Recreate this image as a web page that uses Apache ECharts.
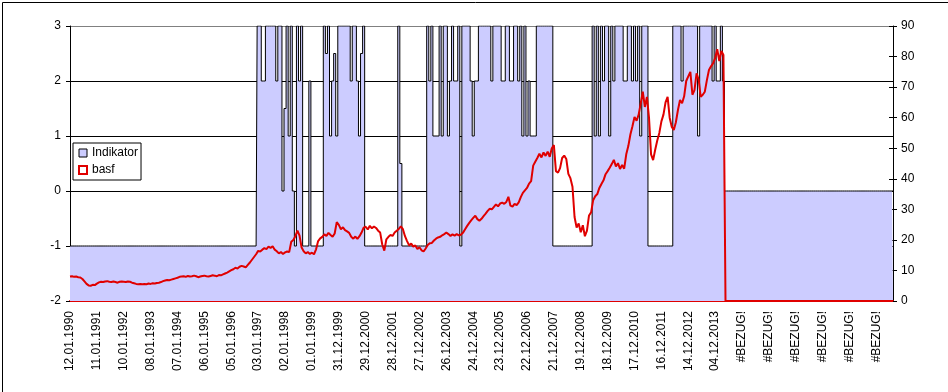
<!DOCTYPE html>
<html><head><meta charset="utf-8">
<script src="https://cdn.jsdelivr.net/npm/echarts@6/dist/echarts.min.js"></script>
<style>html,body{margin:0;padding:0;background:#fff}#c{width:948px;height:392px}</style>
</head><body><div id="c"></div>
<script>
// Tick labels (one every 13 samples; samples are 4-weekly)
const tickLabels = ['12.01.1990','11.01.1991','10.01.1992','08.01.1993','07.01.1994','06.01.1995','05.01.1996','03.01.1997','02.01.1998','01.01.1999','31.12.1999','29.12.2000','28.12.2001','27.12.2002','26.12.2003','24.12.2004','23.12.2005','22.12.2006','21.12.2007','19.12.2008','18.12.2009','17.12.2010','16.12.2011','14.12.2012','04.12.2013','#BEZUG!','#BEZUG!','#BEZUG!','#BEZUG!','#BEZUG!','#BEZUG!'];

// Indikator (left axis)
const indikator = [
-1,-1,-1,-1,-1,-1,-1,-1,-1,-1,
-1,-1,-1,-1,-1,-1,-1,-1,-1,-1,
-1,-1,-1,-1,-1,-1,-1,-1,-1,-1,
-1,-1,-1,-1,-1,-1,-1,-1,-1,-1,
-1,-1,-1,-1,-1,-1,-1,-1,-1,-1,
-1,-1,-1,-1,-1,-1,-1,-1,-1,-1,
-1,-1,-1,-1,-1,-1,-1,-1,-1,-1,
-1,-1,-1,-1,-1,-1,-1,-1,-1,-1,
-1,-1,-1,-1,-1,-1,-1,-1,-1,-1,
-1,3,3,2,2,3,3,3,3,3,
2,3,3,0,1.5,3,1,3,0,-1,
3,2,3,-1,-1,-1,2,-1,-1,-1,
-1,-1,-1,3,2.5,3,1,2,2.5,1,
3,3,3,3,3,3,2,3,3,2,
1,2.5,3,-1,-1,-1,-1,-1,-1,-1,
-1,-1,-1,-1,-1,-1,-1,-1,-1,3,
0.5,-1,-1,-1,-1,-1,-1,-1,-1,-1,
-1,-1,-1,3,2,3,1,1,1,3,
1,3,3,1,2,3,2,2,3,-1,
3,3,3,3,2,1,2,2,3,3,
3,3,3,3,2,3,3,3,3,2,
2,3,3,2,2,3,3,2,3,1,
3,1,2,1,1,1,3,3,3,3,
3,3,3,3,-1,-1,-1,-1,-1,-1,
-1,-1,-1,-1,-1,-1,-1,-1,-1,-1,
-1,-1,-1,3,1,3,1,3,2,3,
3,1,3,2,3,3,3,3,2,2,
3,3,2,3,2,3,1,3,3,3,
-1,-1,-1,-1,-1,-1,-1,-1,-1,-1,
-1,-1,3,3,3,3,2,3,3,3,
3,3,3,3,1,3,3,3,3,3,
3,2,3,2,2,3,2,0,0,0,
0,0,0,0,0,0,0,0,0,0,
0,0,0,0,0,0,0,0,0,0,
0,0,0,0,0,0,0,0,0,0,
0,0,0,0,0,0,0,0,0,0,
0,0,0,0,0,0,0,0,0,0,
0,0,0,0,0,0,0,0,0,0,
0,0,0,0,0,0,0,0,0,0,
0,0,0,0,0,0,0,0,0
];

// basf (right axis)
const basf = [
8.0,8.1,7.9,8.0,7.8,7.7,7.2,6.4,5.6,5.1,
5.0,5.3,5.2,5.7,6.1,6.3,6.2,6.4,6.5,6.3,
6.2,6.4,6.2,6.0,6.3,6.4,6.3,6.2,6.4,6.3,
6.0,5.8,5.6,5.5,5.6,5.5,5.6,5.5,5.7,5.6,
5.8,5.7,5.9,6.0,6.2,6.5,6.7,6.9,6.8,7.0,
7.2,7.4,7.6,7.9,8.0,8.1,7.9,8.2,8.0,8.1,
8.3,8.1,7.8,8.0,8.2,8.3,8.1,8.0,8.2,8.4,
8.3,8.1,8.5,8.4,8.7,9.0,9.3,9.7,10.1,10.4,
10.9,10.6,11.2,11.5,11.3,11.0,11.8,12.6,13.5,14.4,
15.3,16.4,16.2,16.8,17.3,17.0,17.8,17.4,17.9,16.8,
16.3,15.6,16.0,15.4,15.9,16.2,16.0,19.4,20.0,21.2,
23.0,21.4,17.5,16.3,15.6,16.0,15.4,15.8,15.3,16.9,
19.6,20.5,21.0,21.8,21.3,22.3,21.6,21.0,22.1,25.8,
24.9,23.5,24.1,23.2,22.8,22.3,21.0,20.4,21.1,20.3,
21.2,22.4,24.0,24.3,23.4,24.6,23.8,24.4,23.9,23.0,
22.4,18.5,16.5,20.2,21.0,21.6,21.3,22.4,23.0,23.6,
24.4,23.5,21.2,19.6,18.2,18.8,17.8,18.2,17.0,17.6,
16.6,16.2,17.2,18.3,18.9,19.0,19.8,20.4,20.8,21.0,
21.5,21.9,22.4,21.9,21.3,21.8,21.4,21.9,21.5,21.7,
22.3,23.4,24.5,25.5,26.4,27.2,27.9,26.8,26.3,26.9,
27.8,28.6,29.5,30.2,30.0,30.8,31.6,31.0,31.9,32.2,
31.8,32.4,34.1,31.2,30.9,31.8,31.4,32.3,34.0,35.4,
36.2,37.0,38.4,39.2,44.3,45.6,46.8,48.2,47.0,48.6,
47.5,48.9,47.2,50.0,51.0,42.5,42.0,43.5,46.8,47.6,
46.5,41.6,40.2,37.4,27.5,24.0,25.4,22.5,24.8,21.2,
23.0,28.0,29.0,33.0,34.3,35.0,37.0,38.3,39.5,41.5,
42.5,43.6,44.8,46.2,44.0,45.1,43.2,44.5,43.3,48.0,
50.7,54.5,57.2,60.2,59.0,61.0,64.7,68.5,63.5,66.8,
60.0,48.0,46.1,49.5,52.5,55.0,58.8,61.0,65.0,66.8,
60.0,57.0,56.0,58.5,62.5,65.8,64.7,67.0,72.0,73.5,
75.0,67.5,69.0,74.5,72.5,66.8,67.5,68.5,72.3,75.6,
76.8,77.8,79.5,82.4,78.5,81.8,80.5,0,0,0,
0,0,0,0,0,0,0,0,0,0,
0,0,0,0,0,0,0,0,0,0,
0,0,0,0,0,0,0,0,0,0,
0,0,0,0,0,0,0,0,0,0,
0,0,0,0,0,0,0,0,0,0,
0,0,0,0,0,0,0,0,0,0,
0,0,0,0,0,0,0,0,0,0,
0,0,0,0,0,0,0,0,0
];

const PER_LABEL = 13;
const categories = indikator.map(function (_, i) {
  return (i % PER_LABEL === 0 && tickLabels[i / PER_LABEL]) ? tickLabels[i / PER_LABEL] : ('p' + i);
});

const FONT = 'Liberation Sans, Arial, sans-serif';
const chart = echarts.init(document.getElementById('c'), null, {renderer: 'canvas'});
chart.setOption({
  animation: false,
  backgroundColor: '#fff',
  textStyle: {fontFamily: FONT},
  grid: {left: 70, right: 55, top: 26, bottom: 91, containLabel: false},
  legend: {
    orient: 'vertical', left: 73, top: 143,
    backgroundColor: '#fff', borderColor: '#000', borderWidth: 1, borderRadius: 0,
    padding: [4, 3, 4, 5], itemGap: 5, itemWidth: 8, itemHeight: 8,
    textStyle: {fontFamily: FONT, fontSize: 12, color: '#000'},
    selectedMode: false,
    data: [
      {name: 'Indikator', icon: 'rect', itemStyle: {color: '#CCCCFF', borderColor: '#000', borderWidth: 1}},
      {name: 'basf', icon: 'rect', itemStyle: {color: '#fff', borderColor: '#E00000', borderWidth: 2}}
    ]
  },
  xAxis: {
    type: 'category', data: categories, boundaryGap: false,
    axisLine: {onZero: false, lineStyle: {color: '#E00000', width: 2}},
    axisTick: {show: false},
    axisLabel: {interval: PER_LABEL - 1, rotate: 90, margin: 10, fontSize: 12, color: '#000', fontFamily: FONT},
    splitLine: {show: false}
  },
  yAxis: [
    {
      type: 'value', position: 'left', min: -2, max: 3, interval: 1,
      axisLine: {show: true, lineStyle: {color: '#000', width: 1}},
      axisTick: {show: true, length: 4, lineStyle: {color: '#000'}},
      axisLabel: {margin: 9, fontSize: 12, color: '#000', fontFamily: FONT},
      splitLine: {show: true, lineStyle: {color: ['#000', '#000', '#000', '#000', '#000', '#808080'], width: 1}}
    },
    {
      type: 'value', position: 'right', min: 0, max: 90, interval: 10,
      axisLine: {show: true, lineStyle: {color: '#000', width: 1}},
      axisTick: {show: true, length: 4, lineStyle: {color: '#000'}},
      axisLabel: {margin: 8, fontSize: 12, color: '#000', fontFamily: FONT},
      splitLine: {show: false}
    },
    {
      type: 'value', position: 'right', offset: 0, min: 0, max: 90, interval: 10,
      axisLine: {show: false},
      axisTick: {show: true, inside: true, length: 4, lineStyle: {color: '#000'}},
      axisLabel: {show: false},
      splitLine: {show: false}
    }
  ],
  series: [
    {
      name: 'Indikator', type: 'line', yAxisIndex: 0, data: indikator,
      step: 'middle', symbol: 'none', showSymbol: false, z: 2,
      lineStyle: {color: '#000', width: 1},
      itemStyle: {color: '#CCCCFF'},
      areaStyle: {color: '#CCCCFF', opacity: 1, origin: 'start'}
    },
    {
      name: 'basf', type: 'line', yAxisIndex: 1, data: basf,
      symbol: 'none', showSymbol: false, z: 3,
      lineStyle: {color: '#E00000', width: 2},
      itemStyle: {color: '#E00000'}
    }
  ],
  graphic: [{
    type: 'rect', left: 0, top: 0, z: 100, silent: true,
    shape: {x: 0.5, y: 0.5, width: 946, height: 390},
    style: {fill: 'none', stroke: '#000', lineWidth: 1}
  }]
});
</script>
</body></html>
